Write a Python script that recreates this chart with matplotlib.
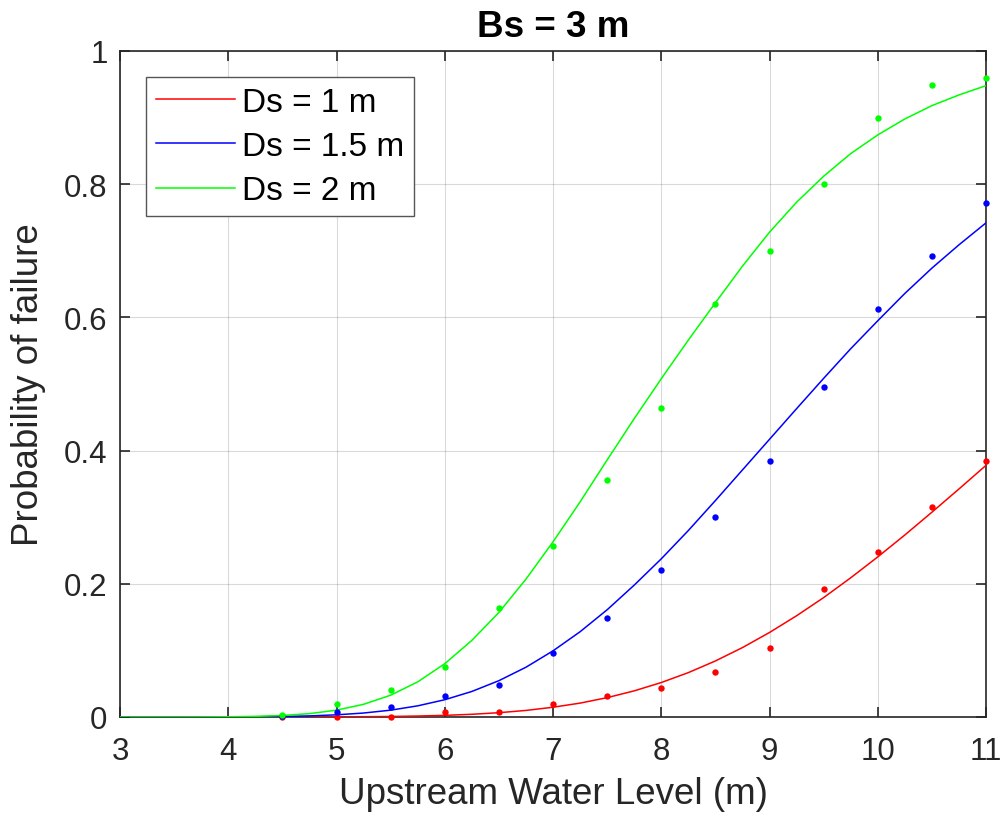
#!/usr/bin/env python
import numpy as np
import matplotlib
matplotlib.use('Agg')
import matplotlib.pyplot as plt

# observed points (water level step 0.5 m)
x_obs = [4.5, 5, 5.5, 6, 6.5, 7, 7.5, 8, 8.5, 9, 9.5, 10, 10.5, 11]
red_obs = [0.0, 0.0, 0.0, 0.0075, 0.0075, 0.0195, 0.0315, 0.0435, 0.068,
           0.104, 0.192, 0.248, 0.316, 0.384]
blue_obs = [0.002, 0.008, 0.0155, 0.0315, 0.0475, 0.096, 0.148, 0.220, 0.300,
            0.384, 0.496, 0.612, 0.692, 0.772]
green_obs = [0.0035, 0.0195, 0.040, 0.0755, 0.164, 0.256, 0.356, 0.464, 0.620,
             0.700, 0.800, 0.900, 0.949, 0.960]

# fitted curves, step 0.25 m from 3 to 11
x_fit = np.arange(3, 11.001, 0.25)
red_fit = [0, 0, 0, 0, 0, 0, 0, 0.0001, 0.0002, 0.0004, 0.0007, 0.0014, 0.0024,
           0.0040, 0.0064, 0.0098, 0.0146, 0.0208, 0.029, 0.0392, 0.0517,
           0.0666, 0.0841, 0.1042, 0.1269, 0.152, 0.1793, 0.209, 0.2404,
           0.2733, 0.3075, 0.3424, 0.3779]
blue_fit = [0, 0, 0, 0, 0.0001, 0.0003, 0.0007, 0.0016, 0.0032, 0.0059, 0.0102,
            0.0167, 0.0259, 0.0383, 0.0545, 0.0747, 0.0993, 0.128, 0.161,
            0.198, 0.2375, 0.280, 0.325, 0.371, 0.417, 0.463, 0.5085, 0.553,
            0.595, 0.636, 0.674, 0.709, 0.742]
green_fit = [0, 0, 0, 0.0001, 0.0003, 0.0009, 0.0022, 0.0050, 0.0102, 0.019,
             0.0327, 0.0527, 0.080, 0.115, 0.157, 0.207, 0.263, 0.323, 0.386,
             0.448, 0.508, 0.566, 0.622, 0.677, 0.728, 0.773, 0.812, 0.846,
             0.874, 0.898, 0.918, 0.934, 0.948]

labels = ['Ds = 1 m', 'Ds = 1.5 m', 'Ds = 2 m']
colors = ['#ff0000', '#0000ff', '#00ff00']
fits = [red_fit, blue_fit, green_fit]
obs = [red_obs, blue_obs, green_obs]

plt.rcParams['font.family'] = ['Liberation Sans', 'DejaVu Sans']
dark = '#262626'

fig = plt.figure(figsize=(10.02, 8.28), dpi=100)
ax = fig.add_axes([0.1198, 0.1329, 0.8643, 0.8043])

handles = []
for i in [2, 1, 0]:
    h, = ax.plot(x_fit, fits[i], color=colors[i], lw=1.1, zorder=3 + i)
    ax.plot(x_obs, obs[i], 'o', color=colors[i], ms=4.6, mec='none',
            clip_on=False, zorder=6 + i)
    handles.insert(0, h)

ax.set_xlim(3, 11)
ax.set_ylim(0, 1)
ax.set_xticks(range(3, 12))
ax.set_yticks([0, 0.2, 0.4, 0.6, 0.8, 1])
ax.set_yticklabels(['0', '0.2', '0.4', '0.6', '0.8', '1'])
ax.grid(True, color='#000000', alpha=0.15, lw=0.8)
ax.set_axisbelow(True)
for s in ax.spines.values():
    s.set_color(dark)
    s.set_linewidth(1.2)
ax.tick_params(direction='in', length=7, width=1.2, colors=dark,
               labelcolor=dark, labelsize=22.5, top=True, right=True)
ax.tick_params(axis='x', pad=14)
ax.tick_params(axis='y', pad=9)

ax.set_xlabel('Upstream Water Level (m)', fontsize=26.5, color=dark, labelpad=7)
ax.set_ylabel('Probability of failure', fontsize=26.5, color=dark, labelpad=13)
ax.set_title('Bs = 3 m', fontsize=26.5, fontweight='bold', pad=11)

leg = ax.legend(handles, labels, loc='upper left', bbox_to_anchor=(0.0297, 0.9614),
                borderaxespad=0, fontsize=24, handlelength=2.37,
                handletextpad=0.22, labelspacing=0.4, borderpad=0.3,
                fancybox=False, framealpha=1)
leg.get_frame().set_edgecolor('#555555')
leg.get_frame().set_linewidth(1.0)

fig.savefig('out.png', dpi=100)
